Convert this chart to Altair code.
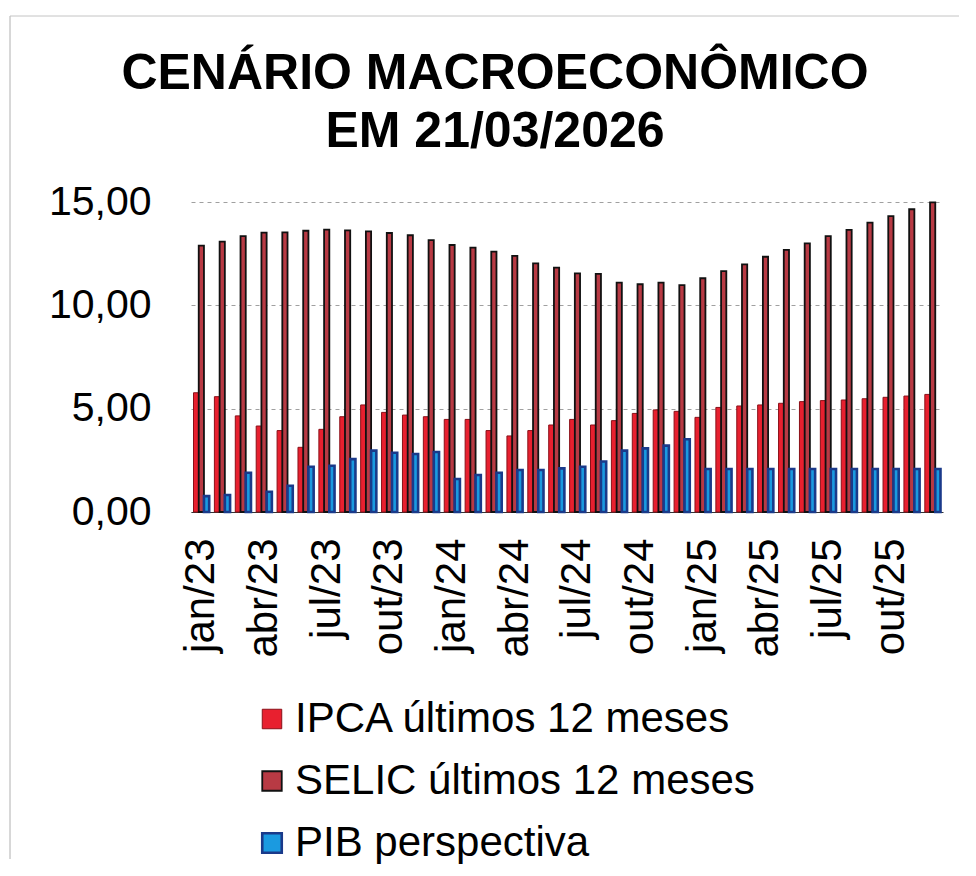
import altair as alt
import pandas as pd

months = [
    "jan/23", "fev/23", "mar/23", "abr/23", "mai/23", "jun/23",
    "jul/23", "ago/23", "set/23", "out/23", "nov/23", "dez/23",
    "jan/24", "fev/24", "mar/24", "abr/24", "mai/24", "jun/24",
    "jul/24", "ago/24", "set/24", "out/24", "nov/24", "dez/24",
    "jan/25", "fev/25", "mar/25", "abr/25", "mai/25", "jun/25",
    "jul/25", "ago/25", "set/25", "out/25", "nov/25", "dez/25",
]

ipca = [
    5.77, 5.58, 4.65, 4.16, 3.94, 3.13, 4.00, 4.61, 5.18, 4.82, 4.69, 4.61,
    4.48, 4.48, 3.94, 3.68, 3.94, 4.21, 4.48, 4.21, 4.42, 4.77, 4.94, 4.87,
    4.58, 5.06, 5.13, 5.18, 5.26, 5.34, 5.39, 5.42, 5.48, 5.55, 5.61, 5.69,
]

selic = [
    12.89, 13.08, 13.35, 13.52, 13.53, 13.61, 13.66, 13.63, 13.58, 13.50, 13.39, 13.16,
    12.92, 12.79, 12.60, 12.39, 12.03, 11.82, 11.55, 11.52, 11.10, 11.02, 11.10, 10.98,
    11.31, 11.66, 11.98, 12.35, 12.68, 13.00, 13.35, 13.65, 14.00, 14.32, 14.65, 14.98,
]

pib = [
    0.77, 0.82, 1.90, 0.98, 1.27, 2.19, 2.24, 2.56, 2.97, 2.87, 2.81, 2.90,
    1.60, 1.79, 1.90, 2.03, 2.03, 2.11, 2.19, 2.44, 2.97, 3.08, 3.21, 3.52,
    2.08, 2.08, 2.08, 2.08, 2.08, 2.08, 2.08, 2.08, 2.08, 2.08, 2.08, 2.08,
]

series_names = ["IPCA últimos 12 meses", "SELIC últimos 12 meses", "PIB perspectiva"]
fill_colors = ["#E8202F", "#B83A44", "#1B9AE0"]
stroke_colors = ["#8A1018", "#111111", "#1A3A8A"]
stroke_widths = [1.0, 2.6, 1.0]
tick_labels = months[::3]

rows = []
for i, m in enumerate(months):
    for name, vals in zip(series_names, [ipca, selic, pib]):
        rows.append({"mes": m, "serie": name, "valor": vals[i]})
df = pd.DataFrame(rows)

FONT = "Liberation Sans"

bars = alt.Chart(df).mark_bar().encode(
    x=alt.X(
        "mes:N",
        sort=months,
        scale=alt.Scale(paddingInner=0.25, paddingOuter=0.12),
        axis=alt.Axis(
            title=None,
            values=tick_labels,
            labelAngle=-90,
            labelAlign="right",
            labelBaseline="middle",
            labelFont=FONT,
            labelFontSize=42,
            labelColor="#000000",
            labelPadding=26,
            ticks=False,
            domain=True,
            domainColor="#333333",
            domainWidth=1,
            grid=False,
        ),
    ),
    xOffset=alt.XOffset("serie:N", sort=series_names, scale=alt.Scale(paddingInner=0)),
    y=alt.Y(
        "valor:Q",
        scale=alt.Scale(domain=[0, 15], nice=False),
        axis=alt.Axis(
            title=None,
            values=[0, 5, 10, 15],
            labelExpr="replace(format(datum.value, '.2f'), '.', ',')",
            labelFont=FONT,
            labelFontSize=41,
            labelColor="#000000",
            labelPadding=40,
            ticks=False,
            domain=False,
            grid=True,
            gridColor="#A0A0A0",
            gridDash=[4, 4],
            gridWidth=1,
        ),
    ),
    color=alt.Color(
        "serie:N",
        sort=series_names,
        scale=alt.Scale(domain=series_names, range=fill_colors),
        legend=alt.Legend(
            title=None,
            orient="none",
            legendX=60,
            legendY=496,
            direction="vertical",
            symbolType="square",
            symbolSize=380,
            symbolStrokeColor="#333333",
            symbolStrokeWidth=1.5,
            labelFont=FONT,
            labelFontSize=42,
            labelColor="#000000",
            labelOffset=2,
            rowPadding=20,
            labelLimit=600,
        ),
    ),
    stroke=alt.Stroke(
        "serie:N",
        sort=series_names,
        scale=alt.Scale(domain=series_names, range=stroke_colors),
        legend=None,
    ),
    strokeWidth=alt.StrokeWidth(
        "serie:N",
        sort=series_names,
        scale=alt.Scale(domain=series_names, range=stroke_widths),
        legend=None,
    ),
)

# faint outer frame of the scanned chart (left and top edges)
frame_src = alt.Data(values=[{"k": 0}])
frame_left = alt.Chart(frame_src).mark_rule(color="#B0B0B0", strokeWidth=1).encode(
    x=alt.value(-181), y=alt.value(-186), y2=alt.value(657)
)
frame_top = alt.Chart(frame_src).mark_rule(color="#C4C4C4", strokeWidth=1).encode(
    x=alt.value(-181), x2=alt.value(768), y=alt.value(-186)
)

chart = alt.layer(bars, frame_left, frame_top).properties(
    width=752,
    height=310,
    title=alt.Title(
        ["CENÁRIO MACROECONÔMICO", "EM 21/03/2026"],
        font=FONT,
        fontSize=50,
        fontWeight="bold",
        lineHeight=58,
        color="#000000",
        anchor="middle",
        frame="group",
        dx=-72,
        offset=-141,
    ),
    padding={"left": 1, "top": 7, "right": 0, "bottom": 0},
    background="#ffffff",
).configure_view(stroke=None)

chart.save("out.html", embed_options={"renderer": "svg", "actions": False})
